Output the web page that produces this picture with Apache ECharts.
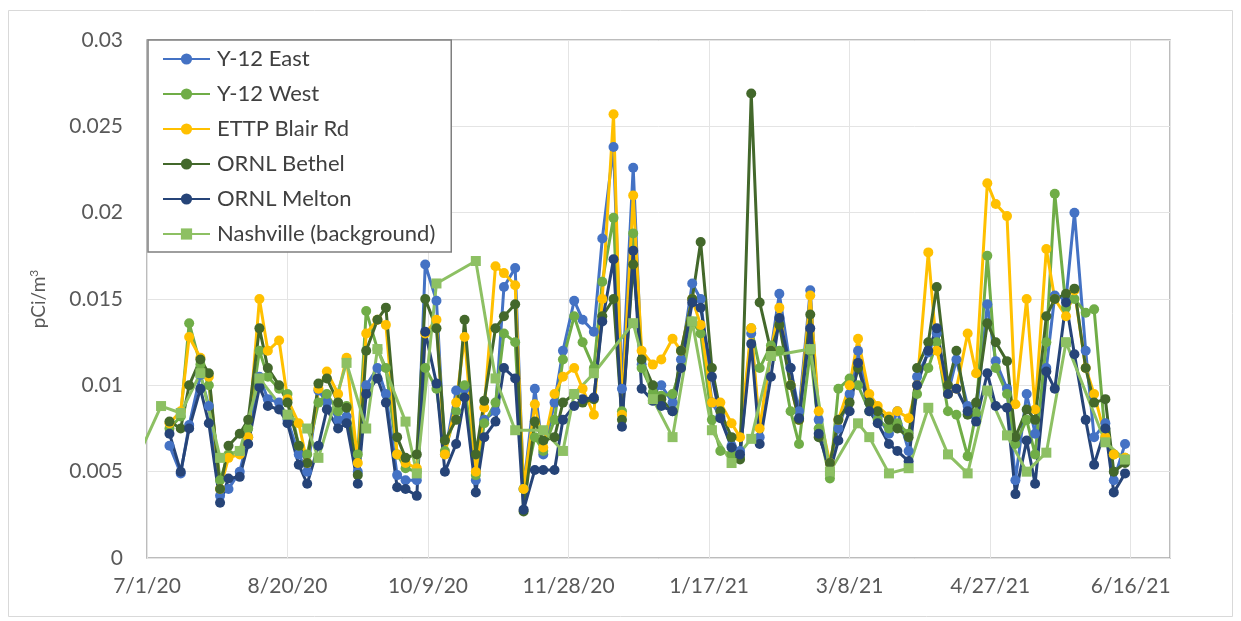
<!DOCTYPE html>
<html>
<head>
<meta charset="utf-8">
<script src="https://cdn.jsdelivr.net/npm/echarts@6/dist/echarts.min.js"></script>
<style>
  html, body { margin: 0; padding: 0; background: #fff; }
  #chart { width: 1241px; height: 621px; }
</style>
</head>
<body>
<div id="chart"></div>
<script>
// sample dates (twice weekly); the first one lies before the axis start
const dates = [
  '2020-06-29',
  '2020-07-06', '2020-07-09', '2020-07-13', '2020-07-16', '2020-07-20', '2020-07-23', '2020-07-27', '2020-07-30',
  '2020-08-03', '2020-08-06', '2020-08-10', '2020-08-13', '2020-08-17', '2020-08-20', '2020-08-24', '2020-08-27', '2020-08-31',
  '2020-09-03', '2020-09-07', '2020-09-10', '2020-09-14', '2020-09-17', '2020-09-21', '2020-09-24', '2020-09-28',
  '2020-10-01', '2020-10-05', '2020-10-08', '2020-10-12', '2020-10-15', '2020-10-19', '2020-10-22', '2020-10-26', '2020-10-29',
  '2020-11-02', '2020-11-05', '2020-11-09', '2020-11-12', '2020-11-16', '2020-11-19', '2020-11-23', '2020-11-26', '2020-11-30',
  '2020-12-03', '2020-12-07', '2020-12-10', '2020-12-14', '2020-12-17', '2020-12-21', '2020-12-24', '2020-12-28', '2020-12-31',
  '2021-01-04', '2021-01-07', '2021-01-11', '2021-01-14', '2021-01-18', '2021-01-21', '2021-01-25', '2021-01-28',
  '2021-02-01', '2021-02-04', '2021-02-08', '2021-02-11', '2021-02-15', '2021-02-18', '2021-02-22', '2021-02-25',
  '2021-03-01', '2021-03-04', '2021-03-08', '2021-03-11', '2021-03-15', '2021-03-18', '2021-03-22', '2021-03-25', '2021-03-29',
  '2021-04-01', '2021-04-05', '2021-04-08', '2021-04-12', '2021-04-15', '2021-04-19', '2021-04-22', '2021-04-26', '2021-04-29',
  '2021-05-03', '2021-05-06', '2021-05-10', '2021-05-13', '2021-05-17', '2021-05-20', '2021-05-24', '2021-05-27', '2021-05-31',
  '2021-06-03', '2021-06-07', '2021-06-10', '2021-06-14'
];

const y12East = [
  null, null, 0.0065, 0.0049, 0.0077, 0.0106, 0.0088, 0.0036, 0.0040, 0.0050,
  0.0070, 0.0105, 0.0092, 0.0090, 0.0080, 0.0060, 0.0050, 0.0097, 0.0090, 0.0080,
  0.0082, 0.0050, 0.0100, 0.0110, 0.0095, 0.0048, 0.0045, 0.0045, 0.0170, 0.0149,
  0.0060, 0.0097, 0.0098, 0.0045, 0.0080, 0.0085, 0.0157, 0.0168, 0.0040, 0.0098,
  0.0060, 0.0090, 0.0120, 0.0149, 0.0138, 0.0131, 0.0185, 0.0238, 0.0098, 0.0226,
  0.0112, 0.0095, 0.0100, 0.0090, 0.0115, 0.0159, 0.0150, 0.0090, 0.0082, 0.0065,
  0.0062, 0.0130, 0.0070, 0.0120, 0.0153, 0.0110, 0.0085, 0.0155, 0.0080, 0.0055,
  0.0075, 0.0095, 0.0120, 0.0090, 0.0082, 0.0072, 0.0085, 0.0062, 0.0105, 0.0119,
  0.0130, 0.0095, 0.0115, 0.0088, 0.0082, 0.0147, 0.0114, 0.0098, 0.0045, 0.0095,
  0.0072, 0.0110, 0.0152, 0.0150, 0.0200, 0.0120, 0.0070, 0.0078, 0.0045, 0.0066
];

const y12West = [
  null, null, 0.0075, 0.0082, 0.0136, 0.0112, 0.0100, 0.0045, 0.0060, 0.0062,
  0.0075, 0.0120, 0.0105, 0.0098, 0.0095, 0.0065, 0.0060, 0.0090, 0.0095, 0.0085,
  0.0088, 0.0060, 0.0143, 0.0121, 0.0110, 0.0060, 0.0052, 0.0050, 0.0110, 0.0098,
  0.0062, 0.0085, 0.0100, 0.0048, 0.0078, 0.0090, 0.0130, 0.0125, 0.0040, 0.0070,
  0.0062, 0.0080, 0.0115, 0.0140, 0.0125, 0.0110, 0.0160, 0.0197, 0.0085, 0.0188,
  0.0110, 0.0096, 0.0094, 0.0095, 0.0110, 0.0137, 0.0130, 0.0080, 0.0062, 0.0060,
  0.0058, 0.0133, 0.0110, 0.0123, 0.0120, 0.0085, 0.0066, 0.0120, 0.0075, 0.0046,
  0.0098, 0.0104, 0.0100, 0.0085, 0.0080, 0.0075, 0.0078, 0.0072, 0.0095, 0.0110,
  0.0125, 0.0085, 0.0083, 0.0059, 0.0084, 0.0175, 0.0110, 0.0095, 0.0066, 0.0080,
  0.0060, 0.0125, 0.0211, 0.0145, 0.0150, 0.0142, 0.0144, 0.0070, 0.0060, 0.0058
];

const ettpBlair = [
  null, null, 0.0078, 0.0085, 0.0128, 0.0116, 0.0105, 0.0040, 0.0058, 0.0060,
  0.0070, 0.0150, 0.0120, 0.0126, 0.0092, 0.0078, 0.0055, 0.0098, 0.0108, 0.0095,
  0.0116, 0.0055, 0.0130, 0.0138, 0.0135, 0.0060, 0.0055, 0.0052, 0.0130, 0.0138,
  0.0060, 0.0090, 0.0128, 0.0050, 0.0087, 0.0169, 0.0165, 0.0158, 0.0040, 0.0089,
  0.0064, 0.0095, 0.0105, 0.0110, 0.0098, 0.0083, 0.0150, 0.0257, 0.0083, 0.0210,
  0.0120, 0.0112, 0.0115, 0.0127, 0.0120, 0.0150, 0.0135, 0.0090, 0.0090, 0.0078,
  0.0070, 0.0133, 0.0075, 0.0120, 0.0145, 0.0100, 0.0080, 0.0152, 0.0085, 0.0055,
  0.0080, 0.0100, 0.0127, 0.0095, 0.0088, 0.0082, 0.0085, 0.0081, 0.0100, 0.0177,
  0.0120, 0.0095, 0.0098, 0.0130, 0.0107, 0.0217, 0.0205, 0.0198, 0.0089, 0.0150,
  0.0086, 0.0179, 0.0150, 0.0140, 0.0155, 0.0110, 0.0095, 0.0070, 0.0060, 0.0058
];

const ornlBethel = [
  null, null, 0.0079, 0.0075, 0.0100, 0.0115, 0.0107, 0.0040, 0.0065, 0.0072,
  0.0080, 0.0133, 0.0110, 0.0100, 0.0090, 0.0065, 0.0055, 0.0101, 0.0104, 0.0090,
  0.0087, 0.0048, 0.0120, 0.0138, 0.0145, 0.0070, 0.0058, 0.0060, 0.0150, 0.0133,
  0.0068, 0.0080, 0.0138, 0.0060, 0.0091, 0.0133, 0.0140, 0.0147, 0.0027, 0.0079,
  0.0068, 0.0070, 0.0090, 0.0095, 0.0090, 0.0092, 0.0140, 0.0150, 0.0080, 0.0170,
  0.0115, 0.0100, 0.0092, 0.0085, 0.0120, 0.0150, 0.0183, 0.0110, 0.0085, 0.0070,
  0.0057, 0.0269, 0.0148, 0.0120, 0.0135, 0.0100, 0.0080, 0.0141, 0.0070, 0.0055,
  0.0080, 0.0090, 0.0110, 0.0090, 0.0085, 0.0080, 0.0075, 0.0070, 0.0110, 0.0125,
  0.0157, 0.0100, 0.0120, 0.0083, 0.0090, 0.0136, 0.0125, 0.0114, 0.0070, 0.0086,
  0.0080, 0.0140, 0.0150, 0.0153, 0.0156, 0.0110, 0.0090, 0.0092, 0.0050, 0.0055
];

const ornlMelton = [
  null, null, 0.0072, 0.0050, 0.0075, 0.0098, 0.0078, 0.0032, 0.0046, 0.0047,
  0.0066, 0.0099, 0.0088, 0.0086, 0.0078, 0.0054, 0.0043, 0.0065, 0.0086, 0.0075,
  0.0078, 0.0043, 0.0095, 0.0104, 0.0090, 0.0041, 0.0040, 0.0036, 0.0131, 0.0101,
  0.0050, 0.0066, 0.0093, 0.0038, 0.0070, 0.0079, 0.0110, 0.0104, 0.0028, 0.0051,
  0.0051, 0.0051, 0.0080, 0.0088, 0.0092, 0.0093, 0.0137, 0.0173, 0.0076, 0.0178,
  0.0098, 0.0091, 0.0088, 0.0085, 0.0110, 0.0148, 0.0145, 0.0105, 0.0081, 0.0064,
  0.0060, 0.0124, 0.0066, 0.0105, 0.0139, 0.0110, 0.0081, 0.0133, 0.0072, 0.0050,
  0.0068, 0.0085, 0.0113, 0.0085, 0.0078, 0.0066, 0.0062, 0.0056, 0.0100, 0.0120,
  0.0133, 0.0095, 0.0098, 0.0085, 0.0079, 0.0107, 0.0088, 0.0087, 0.0037, 0.0068,
  0.0043, 0.0108, 0.0098, 0.0148, 0.0118, 0.0080, 0.0054, 0.0075, 0.0038, 0.0049
];

// Nashville is sampled weekly
const nashville = [
  0.0063, 0.0088, null, 0.0084, null, 0.0107, null, 0.0058, null, 0.0062,
  null, 0.0104, null, null, 0.0083, null, 0.0075, 0.0058, null, null,
  0.0113, null, 0.0075, 0.0121, null, null, 0.0079, 0.0049, null, 0.0159,
  null, null, null, 0.0172, null, 0.0104, null, 0.0074, null, null,
  0.0074, null, 0.0062, 0.0095, null, 0.0107, null, null, null, 0.0136,
  null, 0.0092, null, 0.0070, null, 0.0137, null, 0.0074, null, 0.0055,
  null, 0.0069, null, 0.0117, null, null, null, 0.0121, null, 0.0050,
  null, null, 0.0078, 0.0070, null, 0.0049, null, 0.0052, null, 0.0087,
  null, 0.0060, null, 0.0049, null, 0.0097, null, 0.0071, null, 0.0050,
  null, 0.0061, null, 0.0125, null, null, null, 0.0067, null, 0.0057
];

const seriesNames = ['Y-12 East', 'Y-12 West', 'ETTP Blair Rd', 'ORNL Bethel', 'ORNL Melton', 'Nashville (background)'];
const seriesValues = [y12East, y12West, ettpBlair, ornlBethel, ornlMelton, nashville];
const seriesColors = ['#4472C4', '#70AD47', '#FFC000', '#43682B', '#264478', '#8DC063'];

// x axis counts days from 7/1/20
const start = Date.UTC(2020, 6, 1);
const DAY = 86400000;
const dayOf = s => (Date.parse(s + 'T00:00:00Z') - start) / DAY;

const fontFamily = 'Lato, "Open Sans", sans-serif';

const series = seriesNames.map((name, k) => ({
  name: name,
  type: 'line',
  symbol: k === 5 ? 'rect' : 'circle',
  symbolSize: 10,
  clip: true,
  lineStyle: { width: 3, color: seriesColors[k] },
  itemStyle: { color: seriesColors[k] },
  emphasis: { disabled: true },
  data: dates
    .map((d, i) => [dayOf(d), seriesValues[k][i]])
    .filter(p => p[1] !== null)
}));

const chart = echarts.init(document.getElementById('chart'));
chart.setOption({
  animation: false,
  backgroundColor: '#fff',
  textStyle: { fontFamily: fontFamily },
  graphic: [{
    type: 'rect',
    shape: { x: 8.5, y: 10.5, width: 1224, height: 606 },
    style: { fill: 'none', stroke: '#D9D9D9', lineWidth: 1 },
    silent: true
  }],
  grid: {
    left: 147, right: 71, top: 40, bottom: 63,
    show: true, borderColor: '#A6A6A6', borderWidth: 1.5
  },
  legend: {
    orient: 'vertical',
    left: 148, top: 40,
    padding: [8, 16, 7, 14],
    itemGap: 13,
    itemWidth: 47,
    itemHeight: 14,
    backgroundColor: '#fff',
    borderColor: '#7F7F7F',
    borderWidth: 1.5,
    borderRadius: 0,
    textStyle: { fontSize: 22, color: '#404040', fontFamily: fontFamily, padding: [0, 0, 0, 2] },
    data: seriesNames
  },
  xAxis: {
    type: 'value',
    min: 0,
    max: 364,
    interval: 50,
    axisLine: { show: false },
    axisTick: { show: false },
    splitLine: { show: true, lineStyle: { color: '#E4E4E4', width: 1 } },
    axisLabel: {
      fontSize: 21,
      color: '#595959',
      margin: 18,
      showMaxLabel: false,
      formatter: v => {
        if (v % 50 !== 0) return '';
        const d = new Date(start + v * DAY);
        return (d.getUTCMonth() + 1) + '/' + d.getUTCDate() + '/' + String(d.getUTCFullYear()).slice(2);
      }
    }
  },
  yAxis: {
    type: 'value',
    min: 0,
    max: 0.03,
    interval: 0.005,
    axisLine: { show: false },
    axisTick: { show: false },
    splitLine: { lineStyle: { color: '#E4E4E4', width: 1 } },
    axisLabel: { fontSize: 21, color: '#595959', margin: 24 },
    name: 'pCi/m{sup|3}',
    nameLocation: 'middle',
    nameRotate: 90,
    nameGap: 98,
    nameTextStyle: {
      fontSize: 19,
      color: '#595959',
      rich: { sup: { fontSize: 12, color: '#595959', padding: [0, 0, 9, 0] } }
    }
  },
  series: series
});
</script>
</body>
</html>
